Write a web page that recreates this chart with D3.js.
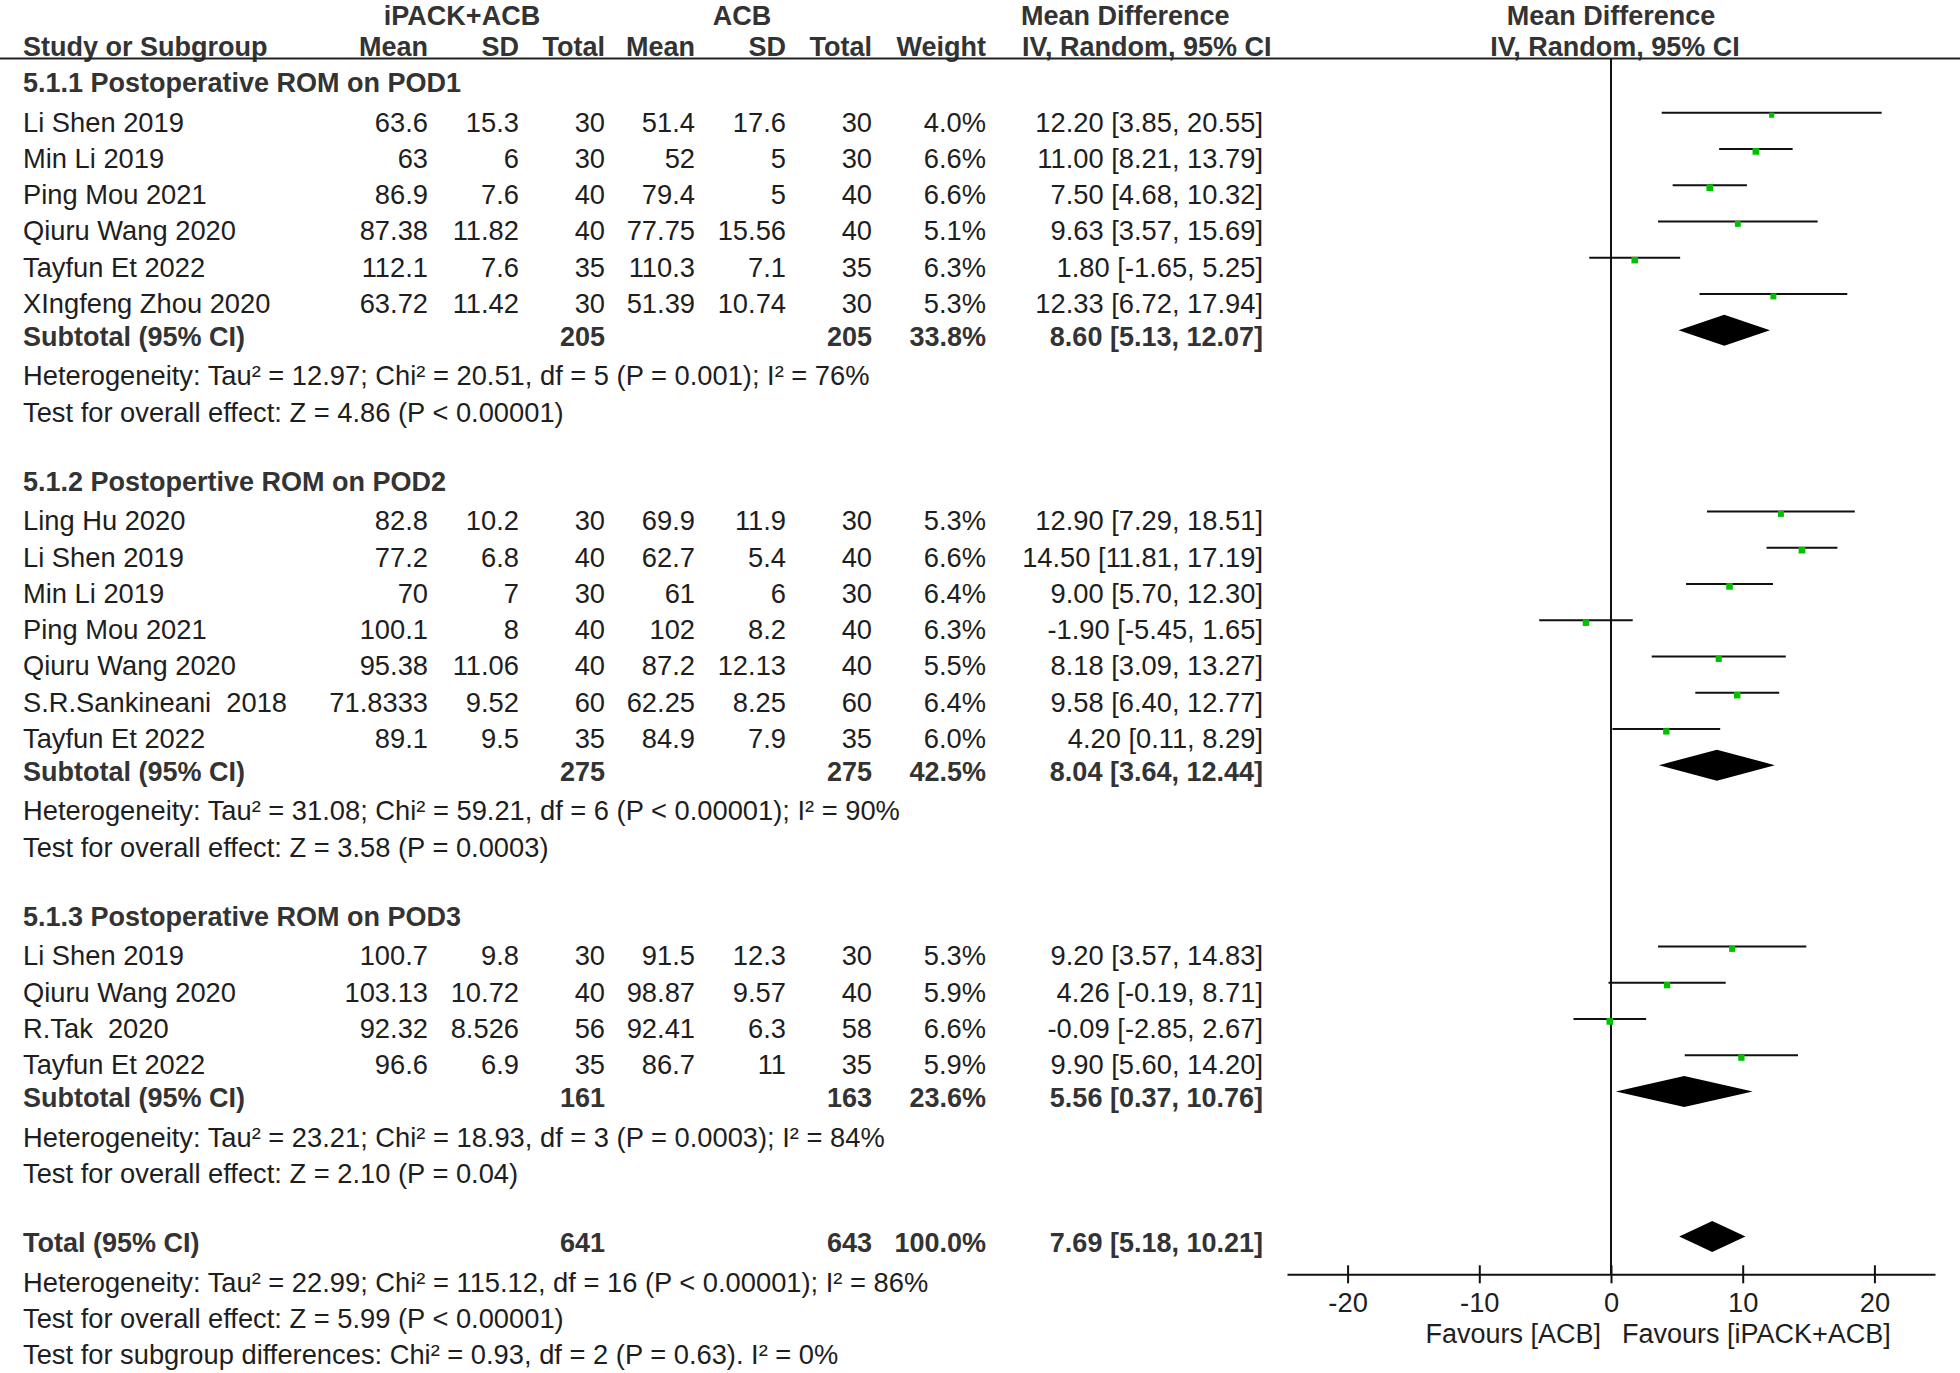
<!DOCTYPE html>
<html>
<head>
<meta charset="utf-8">
<script src="https://cdn.jsdelivr.net/npm/d3@7"></script>
<style>
  html, body { margin: 0; padding: 0; background: #fff; }
  svg { display: block; }
  text { font-family: "Liberation Sans", Arial, Helvetica, sans-serif; white-space: pre; }
</style>
</head>
<body>
<svg id="chart" width="1960" height="1373"></svg>
<script>
// ---------------- DATA ----------------
const groupTitles = [
  "5.1.1 Postoperative ROM on POD1",
  "5.1.2 Postopertive ROM on POD2",
  "5.1.3 Postoperative ROM on POD3"
];
const studyNames = [
  "Li Shen 2019", "Min Li 2019", "Ping Mou 2021", "Qiuru Wang 2020", "Tayfun Et 2022", "XIngfeng Zhou 2020",
  "Ling Hu 2020", "Li Shen 2019", "Min Li 2019", "Ping Mou 2021", "Qiuru Wang 2020", "S.R.Sankineani  2018", "Tayfun Et 2022",
  "Li Shen 2019", "Qiuru Wang 2020", "R.Tak  2020", "Tayfun Et 2022"
];
const studyGroup = [0,0,0,0,0,0, 1,1,1,1,1,1,1, 2,2,2,2];
const expMean = [63.6, 63, 86.9, 87.38, 112.1, 63.72, 82.8, 77.2, 70, 100.1, 95.38, 71.8333, 89.1, 100.7, 103.13, 92.32, 96.6];
const expSD   = [15.3, 6, 7.6, 11.82, 7.6, 11.42, 10.2, 6.8, 7, 8, 11.06, 9.52, 9.5, 9.8, 10.72, 8.526, 6.9];
const expN    = [30, 30, 40, 40, 35, 30, 30, 40, 30, 40, 40, 60, 35, 30, 40, 56, 35];
const ctlMean = [51.4, 52, 79.4, 77.75, 110.3, 51.39, 69.9, 62.7, 61, 102, 87.2, 62.25, 84.9, 91.5, 98.87, 92.41, 86.7];
const ctlSD   = [17.6, 5, 5, 15.56, 7.1, 10.74, 11.9, 5.4, 6, 8.2, 12.13, 8.25, 7.9, 12.3, 9.57, 6.3, 11];
const ctlN    = [30, 30, 40, 40, 35, 30, 30, 40, 30, 40, 40, 60, 35, 30, 40, 58, 35];
const weights = [4.0, 6.6, 6.6, 5.1, 6.3, 5.3, 5.3, 6.6, 6.4, 6.3, 5.5, 6.4, 6.0, 5.3, 5.9, 6.6, 5.9];
const mdValues = [12.20, 11.00, 7.50, 9.63, 1.80, 12.33, 12.90, 14.50, 9.00, -1.90, 8.18, 9.58, 4.20, 9.20, 4.26, -0.09, 9.90];
const ciLow    = [3.85, 8.21, 4.68, 3.57, -1.65, 6.72, 7.29, 11.81, 5.70, -5.45, 3.09, 6.40, 0.11, 3.57, -0.19, -2.85, 5.60];
const ciHigh   = [20.55, 13.79, 10.32, 15.69, 5.25, 17.94, 18.51, 17.19, 12.30, 1.65, 13.27, 12.77, 8.29, 14.83, 8.71, 2.67, 14.20];

const groupExpTotal = [205, 275, 161];
const groupCtlTotal = [205, 275, 163];
const groupWeight = [33.8, 42.5, 23.6];
const groupMD = [8.60, 8.04, 5.56];
const groupLow = [5.13, 3.64, 0.37];
const groupHigh = [12.07, 12.44, 10.76];
const groupHet = [
  "Heterogeneity: Tau² = 12.97; Chi² = 20.51, df = 5 (P = 0.001); I² = 76%",
  "Heterogeneity: Tau² = 31.08; Chi² = 59.21, df = 6 (P < 0.00001); I² = 90%",
  "Heterogeneity: Tau² = 23.21; Chi² = 18.93, df = 3 (P = 0.0003); I² = 84%"
];
const groupTest = [
  "Test for overall effect: Z = 4.86 (P < 0.00001)",
  "Test for overall effect: Z = 3.58 (P = 0.0003)",
  "Test for overall effect: Z = 2.10 (P = 0.04)"
];
const totalExp = 641, totalCtl = 643, totalWeight = 100.0;
const totalMD = 7.69, totalLow = 5.18, totalHigh = 10.21;
const totalHet = "Heterogeneity: Tau² = 22.99; Chi² = 115.12, df = 16 (P < 0.00001); I² = 86%";
const totalTest = "Test for overall effect: Z = 5.99 (P < 0.00001)";
const subgroupTest = "Test for subgroup differences: Chi² = 0.93, df = 2 (P = 0.63). I² = 0%";

const axisTicks = [-20, -10, 0, 10, 20];
const favoursLeft = "Favours [ACB]";
const favoursRight = "Favours [iPACK+ACB]";

// ---------------- LAYOUT ----------------
const svg = d3.select("#chart");
const FS = 27.3, FSB = 27;
const colText = "#1e1e1e", colBold = "#333";

// build row list
const rows = [];
groupTitles.forEach((t, g) => {
  rows.push({type: "group", g});
  studyNames.forEach((n, i) => { if (studyGroup[i] === g) rows.push({type: "study", i}); });
  rows.push({type: "subtotal", g});
  rows.push({type: "het", text: groupHet[g]});
  rows.push({type: "het", text: groupTest[g]});
  rows.push({type: "blank"});
});
rows.push({type: "total"});
rows.push({type: "het", text: totalHet});
rows.push({type: "het", text: totalTest});
rows.push({type: "het", text: subgroupTest});

const yBase = d3.scaleLinear().domain([0, 35]).range([95.4, 95.4 + 36.25 * 35]);
const markOffset = -19;
const boldShift = -3.5;

const x = d3.scaleLinear().domain([-24.6, 24.6]).range([1287, 1935]);

const cols = {
  name: 23, m1: 428, sd1: 519, n1: 605, m2: 695, sd2: 786, n2: 872, w: 986, ci: 1263
};

function txt(s, xx, yy, opts = {}) {
  return svg.append("text")
    .attr("x", xx).attr("y", yy)
    .attr("font-size", opts.size || (opts.bold ? FSB : FS))
    .attr("font-weight", opts.bold ? "bold" : "normal")
    .attr("text-anchor", opts.anchor || "start")
    .attr("fill", opts.bold ? colBold : colText)
    .text(s);
}
const fmtCI = (m, l, h) => `${m.toFixed(2)} [${l.toFixed(2)}, ${h.toFixed(2)}]`;
const fmtW = w => w.toFixed(1) + "%";

// ---------------- HEADER ----------------
const h1 = 24.5, h2 = 55.5;
txt("iPACK+ACB", 462, h1, {bold: true, anchor: "middle"});
txt("ACB", 742, h1, {bold: true, anchor: "middle"});
txt("Mean Difference", 1021, h1, {bold: true});
txt("Mean Difference", x(0), h1, {bold: true, anchor: "middle"});
txt("Study or Subgroup", cols.name, h2, {bold: true});
[["Mean", cols.m1], ["SD", cols.sd1], ["Total", cols.n1], ["Mean", cols.m2], ["SD", cols.sd2], ["Total", cols.n2], ["Weight", cols.w]]
  .forEach(([s, cx]) => txt(s, cx, h2, {bold: true, anchor: "end"}));
txt("IV, Random, 95% CI", 1022, h2, {bold: true});
txt("IV, Random, 95% CI", x(0) + 4, h2, {bold: true, anchor: "middle"});

svg.append("line").attr("x1", 0).attr("x2", 1960).attr("y1", 58.5).attr("y2", 58.5)
  .attr("stroke", "#222").attr("stroke-width", 2);

// zero line
svg.append("line").attr("x1", x(0)).attr("x2", x(0)).attr("y1", 59).attr("y2", 1274)
  .attr("stroke", "#111").attr("stroke-width", 2);

// ---------------- ROWS ----------------
const sqK = 2.6;
rows.forEach((r, ri) => {
  const yb = yBase(ri);
  const ym = yb + markOffset;
  if (r.type === "group") {
    txt(groupTitles[r.g], cols.name, yb + boldShift, {bold: true});
  } else if (r.type === "study") {
    const i = r.i;
    txt(studyNames[i], cols.name, yb);
    txt(String(expMean[i]), cols.m1, yb, {anchor: "end"});
    txt(String(expSD[i]), cols.sd1, yb, {anchor: "end"});
    txt(String(expN[i]), cols.n1, yb, {anchor: "end"});
    txt(String(ctlMean[i]), cols.m2, yb, {anchor: "end"});
    txt(String(ctlSD[i]), cols.sd2, yb, {anchor: "end"});
    txt(String(ctlN[i]), cols.n2, yb, {anchor: "end"});
    txt(fmtW(weights[i]), cols.w, yb, {anchor: "end"});
    txt(fmtCI(mdValues[i], ciLow[i], ciHigh[i]), cols.ci, yb, {anchor: "end"});
    svg.append("line").attr("x1", x(ciLow[i])).attr("x2", x(ciHigh[i]))
      .attr("y1", ym).attr("y2", ym).attr("stroke", "#111").attr("stroke-width", 2);
    const s = sqK * Math.sqrt(weights[i]);
    svg.append("rect").attr("x", x(mdValues[i]) - s / 2).attr("y", ym + 2.5 - s / 2)
      .attr("width", s).attr("height", s).attr("fill", "#00c000");
  } else if (r.type === "subtotal" || r.type === "total") {
    const isT = r.type === "total";
    const e = isT ? totalExp : groupExpTotal[r.g];
    const c = isT ? totalCtl : groupCtlTotal[r.g];
    const w = isT ? totalWeight : groupWeight[r.g];
    const m = isT ? totalMD : groupMD[r.g];
    const l = isT ? totalLow : groupLow[r.g];
    const h = isT ? totalHigh : groupHigh[r.g];
    const yt = yb + boldShift;
    txt(isT ? "Total (95% CI)" : "Subtotal (95% CI)", cols.name, yt, {bold: true});
    txt(String(e), cols.n1, yt, {bold: true, anchor: "end"});
    txt(String(c), cols.n2, yt, {bold: true, anchor: "end"});
    txt(fmtW(w), cols.w, yt, {bold: true, anchor: "end"});
    txt(fmtCI(m, l, h), cols.ci, yt, {bold: true, anchor: "end"});
    const hh = 15.5;
    svg.append("path")
      .attr("d", `M${x(l)},${ym}L${x(m)},${ym - hh}L${x(h)},${ym}L${x(m)},${ym + hh}Z`)
      .attr("fill", "#000");
  } else if (r.type === "het") {
    txt(r.text, cols.name, yb);
  }
});

// ---------------- AXIS ----------------
const axisY = 1274.3;
const axisG = svg.append("g").attr("transform", `translate(0,${axisY})`)
  .call(d3.axisBottom(x).tickValues(axisTicks).tickSize(9).tickSizeOuter(0).tickFormat(d => String(d)));
axisG.select(".domain").attr("stroke", "#111").attr("stroke-width", 2);
axisG.selectAll(".tick line").attr("y1", -9).attr("y2", 9).attr("stroke", "#111").attr("stroke-width", 2);
axisG.selectAll(".tick text").attr("y", 37.4).attr("dy", null)
  .attr("font-size", FS).attr("fill", colText)
  .attr("font-family", '"Liberation Sans", Arial, sans-serif');

txt(favoursLeft, x(0) - 10, 1343, {size: 27, anchor: "end"});
txt(favoursRight, x(0) + 11, 1343, {size: 27});
</script>
</body>
</html>
